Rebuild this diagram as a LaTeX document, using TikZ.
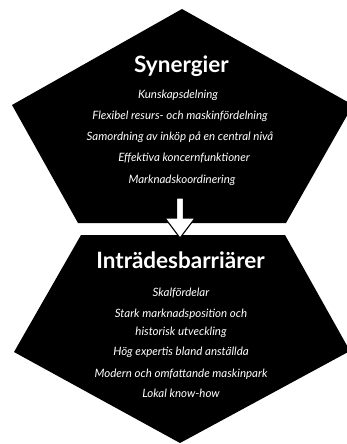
\documentclass[tikz,border=0pt]{standalone}
\usepackage{fontspec}
\setmainfont{Lato}
\begin{document}
\begin{tikzpicture}[x=1pt,y=-1pt,
  panel/.style={fill=black,draw=none},
  ttl/.style={text=white,font=\fontsize{22.5}{24}\selectfont\bfseries,anchor=base,inner sep=0pt},
  itm/.style={text=white,font=\fontsize{11.5}{18}\selectfont\itshape,anchor=base,inner sep=0pt},
  blockarrow/.style={fill=white,draw=black,line width=1.1pt,line join=miter}]
\useasboundingbox (0,0) rectangle (347,444);
\clip (0,0) rectangle (347,444);
% upper panel
\coordinate (uA) at (182,9);
\coordinate (uR) at (353,105);
\coordinate (uBR) at (286,223);
\coordinate (uBL) at (78,223);
\coordinate (uL) at (12,105);
\path[panel] (uA) -- (uR) -- (uBR) -- (uBL) -- (uL) -- cycle;
% lower panel
\coordinate (lTL) at (81,235);
\coordinate (lTR) at (285,235);
\coordinate (lR) at (350,351);
\coordinate (lB) at (180,443);
\coordinate (lL) at (14,352);
\path[panel] (lTL) -- (lTR) -- (lR) -- (lB) -- (lL) -- cycle;
% texts
\node[ttl] (t1) at (181.5,72) {Synergier};
\node[itm] (a1) at (178,98) {Kunskapsdelning};
\node[itm] (a2) at (180,119) {Flexibel resurs- och maskinfördelning};
\node[itm] (a3) at (180,140) {Samordning av inköp på en central nivå};
\node[itm] (a4) at (184,161) {Effektiva koncernfunktioner};
\node[itm] (a5) at (182,183) {Marknadskoordinering};
\node[ttl] (t2) at (180.5,268) {Inträdesbarriärer};
\node[itm] (b1) at (181,296.5) {Skalfördelar};
\node[itm] (b2) at (181,317) {Stark marknadsposition och};
\node[itm] (b2b) at (181,335) {historisk utveckling};
\node[itm] (b3) at (181,355) {Hög expertis bland anställda};
\node[itm] (b4) at (181,377) {Modern och omfattande maskinpark};
\node[itm] (b5) at (181,397) {Lokal know-how};
% arrow
\coordinate (s1) at (176.5,198);
\coordinate (s2) at (183.5,198);
\coordinate (tip) at (180,238);
\draw[blockarrow] (s1) -- (s2) -- (183.5,218) -- (195,218) -- (tip) -- (165,218) -- (176.5,218) -- cycle;
\end{tikzpicture}
\end{document}
